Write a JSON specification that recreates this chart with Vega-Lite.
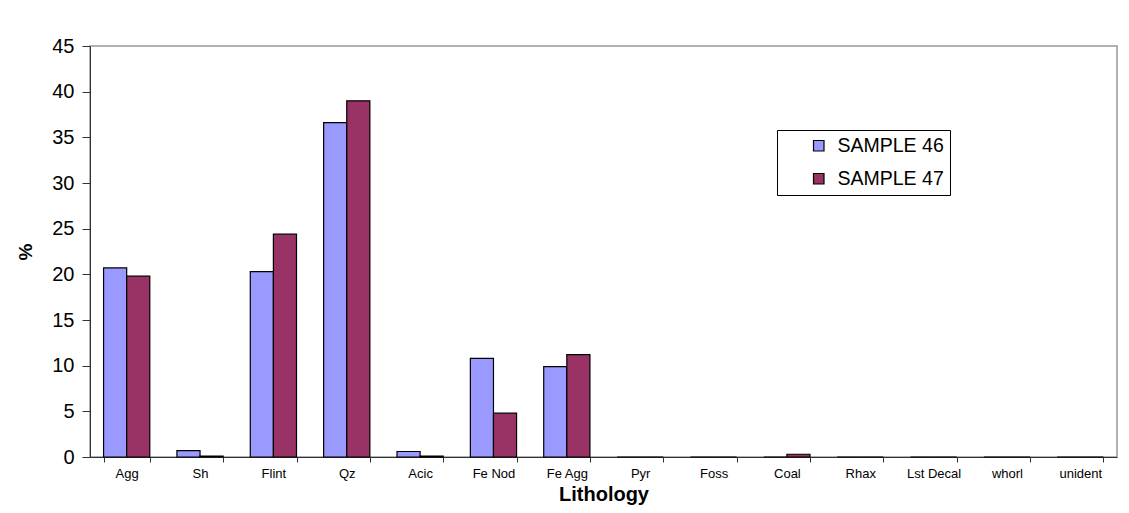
{
  "$schema": "https://vega.github.io/schema/vega-lite/v6.json",
  "autosize": {"type": "none"},
  "width": 1027,
  "height": 411,
  "padding": {"left": 90, "top": 46, "right": 12, "bottom": 56},
  "background": "white",
  "data": {"values": [
    {"lith": "Agg", "sample": "SAMPLE 46", "pct": 20.7},
    {"lith": "Agg", "sample": "SAMPLE 47", "pct": 19.8},
    {"lith": "Sh", "sample": "SAMPLE 46", "pct": 0.7},
    {"lith": "Sh", "sample": "SAMPLE 47", "pct": 0.1},
    {"lith": "Flint", "sample": "SAMPLE 46", "pct": 20.3},
    {"lith": "Flint", "sample": "SAMPLE 47", "pct": 24.4},
    {"lith": "Qz", "sample": "SAMPLE 46", "pct": 36.6},
    {"lith": "Qz", "sample": "SAMPLE 47", "pct": 39.0},
    {"lith": "Acic", "sample": "SAMPLE 46", "pct": 0.6},
    {"lith": "Acic", "sample": "SAMPLE 47", "pct": 0.1},
    {"lith": "Fe Nod", "sample": "SAMPLE 46", "pct": 10.8},
    {"lith": "Fe Nod", "sample": "SAMPLE 47", "pct": 4.8},
    {"lith": "Fe Agg", "sample": "SAMPLE 46", "pct": 9.9},
    {"lith": "Fe Agg", "sample": "SAMPLE 47", "pct": 11.2},
    {"lith": "Pyr", "sample": "SAMPLE 46", "pct": 0},
    {"lith": "Pyr", "sample": "SAMPLE 47", "pct": 0},
    {"lith": "Foss", "sample": "SAMPLE 46", "pct": 0},
    {"lith": "Foss", "sample": "SAMPLE 47", "pct": 0},
    {"lith": "Coal", "sample": "SAMPLE 46", "pct": 0},
    {"lith": "Coal", "sample": "SAMPLE 47", "pct": 0.3},
    {"lith": "Rhax", "sample": "SAMPLE 46", "pct": 0},
    {"lith": "Rhax", "sample": "SAMPLE 47", "pct": 0},
    {"lith": "Lst Decal", "sample": "SAMPLE 46", "pct": 0},
    {"lith": "Lst Decal", "sample": "SAMPLE 47", "pct": 0},
    {"lith": "whorl", "sample": "SAMPLE 46", "pct": 0},
    {"lith": "whorl", "sample": "SAMPLE 47", "pct": 0},
    {"lith": "unident", "sample": "SAMPLE 46", "pct": 0},
    {"lith": "unident", "sample": "SAMPLE 47", "pct": 0}
  ]},
  "mark": {"type": "bar", "stroke": "black", "strokeWidth": 1.2},
  "encoding": {
    "x": {
      "field": "lith", "type": "nominal", "sort": null,
      "scale": {"paddingInner": 0.37, "paddingOuter": 0.185},
      "axis": {
        "title": "Lithology", "titleFont": "Liberation Sans", "titleFontSize": 20, "titleFontWeight": "bold",
        "titleColor": "black", "titlePadding": 4,
        "labelAngle": 0, "labelFont": "Liberation Sans", "labelFontSize": 13, "labelColor": "black", "labelPadding": 5,
        "tickBand": "extent", "tickSize": 5, "tickColor": "#333", "domainColor": "#333", "grid": false
      }
    },
    "xOffset": {"field": "sample", "type": "nominal", "scale": {"paddingInner": 0, "paddingOuter": 0}},
    "y": {
      "field": "pct", "type": "quantitative",
      "scale": {"domain": [0, 45], "nice": false},
      "axis": {
        "title": "%", "titleFont": "Liberation Sans", "titleFontSize": 19, "titleFontWeight": "bold", "titleColor": "black",
        "titlePadding": 16,
        "values": [0, 5, 10, 15, 20, 25, 30, 35, 40, 45],
        "labelFont": "Liberation Sans", "labelFontSize": 20, "labelColor": "black", "labelPadding": 8,
        "tickSize": 8, "tickColor": "#333", "domainColor": "#333", "grid": false
      }
    },
    "fill": {
      "field": "sample", "type": "nominal",
      "scale": {"domain": ["SAMPLE 46", "SAMPLE 47"], "range": ["#9999FF", "#993366"]},
      "legend": {
        "title": null, "orient": "none", "legendX": 687, "legendY": 84,
        "fillColor": "white", "strokeColor": "black", "padding": 6,
        "symbolType": "square", "symbolSize": 110, "symbolStrokeColor": "black", "symbolStrokeWidth": 1.2,
        "symbolOffset": 26,
        "labelFont": "Liberation Sans", "labelFontSize": 19.5, "labelColor": "black", "labelOffset": 9,
        "rowPadding": 12
      }
    }
  },
  "config": {
    "view": {"stroke": "#999", "strokeWidth": 1.5}
  }
}
